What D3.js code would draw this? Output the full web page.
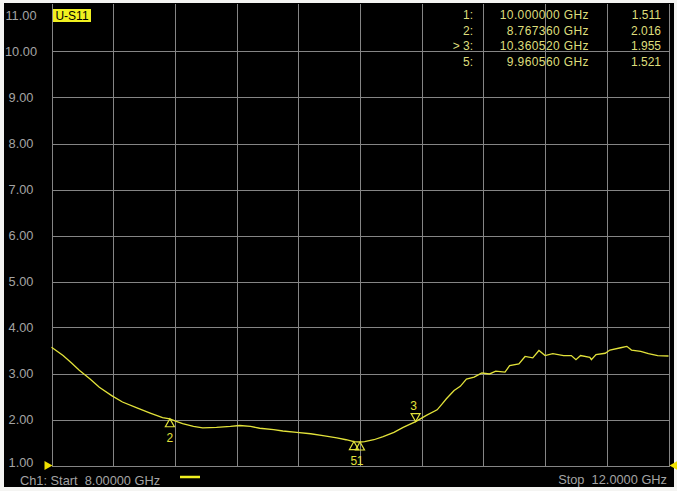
<!DOCTYPE html>
<html><head><meta charset="utf-8">
<script src="https://cdn.jsdelivr.net/npm/d3@7/dist/d3.min.js"></script>
<style>
html,body{margin:0;padding:0;background:#f4f4f2;}
svg{display:block;}
text{font-family:"Liberation Sans",Arial,sans-serif;}
</style></head>
<body>
<svg id="c" width="677" height="491"></svg>
<script>
// ---- data ----
const freqGHz = [8.00,8.075,8.13,8.18,8.25,8.31,8.39,8.46,8.55,8.64,8.72,8.767,8.80,8.85,8.92,8.98,9.07,9.16,9.22,9.29,9.35,9.44,9.50,9.59,9.68,9.76,9.85,9.91,9.96,10.00,10.03,10.09,10.15,10.22,10.28,10.3605,10.43,10.50,10.53,10.56,10.61,10.65,10.69,10.74,10.79,10.84,10.88,10.94,10.97,11.03,11.07,11.12,11.16,11.20,11.25,11.32,11.37,11.40,11.43,11.49,11.50,11.53,11.59,11.62,11.69,11.73,11.76,11.82,11.87,11.93,12.00];
const swr     = [3.57,3.39,3.23,3.07,2.88,2.70,2.52,2.38,2.26,2.14,2.04,2.016,1.97,1.91,1.85,1.82,1.83,1.85,1.87,1.85,1.81,1.78,1.75,1.72,1.69,1.65,1.60,1.56,1.521,1.511,1.52,1.56,1.63,1.72,1.83,1.955,2.09,2.21,2.33,2.45,2.63,2.72,2.88,2.92,3.01,2.99,3.05,3.03,3.17,3.21,3.37,3.34,3.50,3.39,3.43,3.39,3.39,3.30,3.39,3.35,3.30,3.41,3.44,3.51,3.56,3.59,3.51,3.48,3.43,3.39,3.38];
const yTicks = [1,2,3,4,5,6,7,8,9,10,11];
const xTicks = [8,8.4,8.8,9.2,9.6,10,10.4,10.8,11.2,11.6,12];
const markerIds   = ["1","2","3","5"];
const markerFreqs = [10.000000, 8.767360, 10.360520, 9.960560];
const markerVals  = [1.511, 2.016, 1.955, 1.521];
const activeMarker = "3";
const traceName = "U-S11";
const startLabel = "Ch1: Start  8.00000 GHz";
const stopLabel = "Stop  12.0000 GHz";

// ---- drawing ----
const svg = d3.select("#c");
const TRACE = "#e2e23a", GRID = "#858585", LBL = "#a4a4a4", TBL = "#dede7c";
svg.append("rect").attr("x",4).attr("y",3).attr("width",670).attr("height",484).attr("fill","#000");

const x = d3.scaleLinear().domain([8,12]).range([51.5,668.5]);
const y = d3.scaleLinear().domain([1,11]).range([465.5,5.5]);

const g = svg.append("g").attr("shape-rendering","crispEdges");
g.selectAll("line.v").data(xTicks).join("line")
  .attr("x1",d=>Math.round(x(d))+0.5).attr("x2",d=>Math.round(x(d))+0.5)
  .attr("y1",y(11)-2).attr("y2",y(1)).attr("stroke",GRID).attr("stroke-width",1);
g.selectAll("line.h").data(yTicks.filter(d=>d<11)).join("line")
  .attr("x1",x(8)).attr("x2",x(12)+1)
  .attr("y1",d=>Math.round(y(d))+0.5).attr("y2",d=>Math.round(y(d))+0.5)
  .attr("stroke",GRID).attr("stroke-width",1);

// y labels
svg.selectAll("text.yl").data(yTicks).join("text")
  .attr("x",21).attr("y",d=>Math.max(15,Math.min(462,y(d))))
  .attr("dy","0.36em").attr("text-anchor","middle")
  .attr("font-size","12.8px").attr("fill",LBL)
  .text(d=>d3.format(".2f")(d));

// trace
const line = d3.line().x(d=>x(d[0])).y(d=>y(d[1]));
svg.append("path").datum(freqGHz.map((f,i)=>[f,swr[i]]))
  .attr("d",line).attr("fill","none").attr("stroke",TRACE).attr("stroke-width",1.3);

// markers
markerIds.forEach((id,i)=>{
  const mx = x(markerFreqs[i]), my = y(markerVals[i]);
  if (id===activeMarker){
    svg.append("path").attr("d",`M${mx},${my} L${mx-4.5},${my-8} L${mx+4.5},${my-8} Z`)
      .attr("fill","none").attr("stroke",TRACE).attr("stroke-width",1.2);
    svg.append("text").attr("x",mx-2).attr("y",my-12).attr("text-anchor","middle")
      .attr("font-size","12px").attr("fill",TRACE).text(id);
  } else {
    svg.append("path").attr("d",`M${mx},${my} L${mx-4.5},${my+8} L${mx+4.5},${my+8} Z`)
      .attr("fill","none").attr("stroke",TRACE).attr("stroke-width",1.2);
    svg.append("text").attr("x",mx).attr("y",my+23).attr("text-anchor","middle")
      .attr("font-size","12px").attr("fill",TRACE).text(id);
  }
});

// trace title box
svg.append("rect").attr("x",53).attr("y",9).attr("width",38).attr("height",13).attr("fill","#f0f020");
svg.append("text").attr("x",72).attr("y",19.5).attr("text-anchor","middle")
  .attr("font-size","12px").attr("fill","#000").text(traceName);

// marker table
markerIds.forEach((id,i)=>{
  const ty = 14.5 + 15.7*i;
  svg.append("text").attr("x",473).attr("y",ty).attr("dy","0.36em").attr("text-anchor","end")
    .attr("font-size","12px").attr("fill",TBL).text((id===activeMarker?"> ":"")+id+":");
  svg.append("text").attr("x",589).attr("y",ty).attr("dy","0.36em").attr("text-anchor","end")
    .attr("font-size","12px").attr("fill",TBL).attr("letter-spacing","0.4px")
    .text(d3.format(".6f")(markerFreqs[i])+" GHz");
  svg.append("text").attr("x",661).attr("y",ty).attr("dy","0.36em").attr("text-anchor","end")
    .attr("font-size","12px").attr("fill",TBL).text(d3.format(".3f")(markerVals[i]));
});

// reference level arrows
const ry = y(1);
svg.append("path").attr("d",`M${x(8)+1},${ry} L${x(8)-7},${ry-4.5} L${x(8)-7},${ry+4.5} Z`).attr("fill","#f0e000");
svg.append("path").attr("d",`M${x(12)+1},${ry} L${x(12)+9},${ry-4.5} L${x(12)+9},${ry+4.5} Z`).attr("fill","#f0e000");

// bottom annotations
svg.append("text").attr("x",20).attr("y",484.5).attr("font-size","12.8px").attr("fill",LBL)
  .attr("xml:space","preserve").style("white-space","pre").text(startLabel);
svg.append("line").attr("x1",180).attr("x2",200).attr("y1",477).attr("y2",477)
  .attr("stroke","#f0f020").attr("stroke-width",2.5);
svg.append("text").attr("x",667).attr("y",483.5).attr("text-anchor","end").attr("font-size","12.8px")
  .attr("fill",LBL).style("white-space","pre").text(stopLabel);
</script>
</body></html>
